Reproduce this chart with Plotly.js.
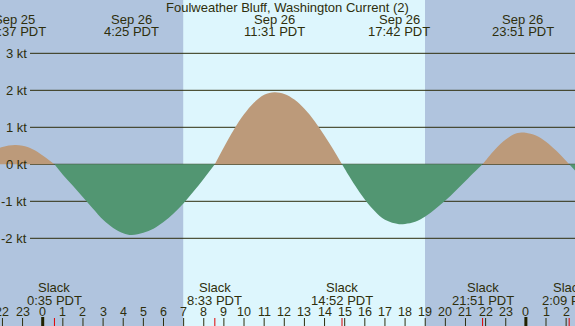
<!DOCTYPE html>
<html>
<head>
<meta charset="utf-8">
<script src="https://cdn.plot.ly/plotly-3.0.1.min.js"></script>
<style>
html,body{margin:0;padding:0;background:#b0c4de;}
#chart{width:575px;height:326px;}
</style>
</head>
<body>
<div id="chart"></div>
<script>
// Hours relative to Sep 26 00:00 PDT
const times = [-2.5,-2.0,-1.383,-1.0,-0.5,0,0.583,1.0,1.5,2.0,2.5,3.0,3.5,4.0,4.417,5.0,5.5,6.0,6.5,7.0,7.5,8.0,8.55,9.0,9.5,10.0,10.5,11.0,11.517,12.0,12.5,13.0,13.5,14.0,14.5,14.867,15.0,15.5,16.0,16.5,17.0,17.7,18.0,18.5,19.0,19.5,20.0,20.5,21.0,21.5,21.85,22.0,22.5,23.0,23.5,23.85,24.0,24.5,25.0,25.5,26.15,26.6];
const speeds = [0.36,0.47,0.52,0.50,0.41,0.24,0,-0.28,-0.58,-0.89,-1.20,-1.50,-1.72,-1.86,-1.91,-1.85,-1.74,-1.56,-1.33,-1.05,-0.73,-0.39,0,0.46,0.94,1.35,1.67,1.88,1.95,1.90,1.75,1.50,1.17,0.77,0.34,0,-0.12,-0.56,-0.95,-1.27,-1.50,-1.62,-1.61,-1.55,-1.41,-1.21,-0.98,-0.72,-0.45,-0.18,0,0.10,0.42,0.67,0.83,0.86,0.85,0.78,0.61,0.37,0,-0.26];

const extremeTimes = [-1.383, 4.417, 11.517, 17.7, 23.85];
const extremeDates = ['Sep 25','Sep 26','Sep 26','Sep 26','Sep 26'];
const extremeLabels = ['22:37 PDT','4:25 PDT','11:31 PDT','17:42 PDT','23:51 PDT'];

const slackTimes = [0.583, 8.55, 14.867, 21.85, 26.15];
const slackLabels = ['0:35 PDT','8:33 PDT','14:52 PDT','21:51 PDT','2:09 PDT'];

const hourTicks = [-2,-1,0,1,2,3,4,5,6,7,8,9,10,11,12,13,14,15,16,17,18,19,20,21,22,23,24,25,26];
const hourLabels = ['22','23','0','1','2','3','4','5','6','7','8','9','10','11','12','13','14','15','16','17','18','19','20','21','22','23','0','1','2'];
const midnights = [0, 24];

const gridValues = [3,2,1,0,-1,-2];
const gridLabels = ['3 kt','2 kt','1 kt','0 kt','-1 kt','-2 kt'];

const sunrise = 6.98, sunset = 18.99;
const titleText = 'Foulweather Bluff, Washington Current (2)';

const W = 575, H = 326;
const NIGHT = '#b0c4de', DAY = '#ddf6fd';
const FLOOD = '#bc9a7a', EBB = '#529672';
const INK = '#2e2e0c';
const FONT = 'Liberation Sans, Arial, sans-serif';

// split series into lobes by sign
const lobes = [];
let cur = null;
for (let i = 0; i < times.length; i++) {
  const v = speeds[i], t = times[i];
  const s = v > 0 ? 1 : (v < 0 ? -1 : 0);
  if (s === 0) {
    if (cur) { cur.x.push(t); cur.y.push(v); lobes.push(cur); }
    cur = {sign: null, x: [t], y: [v]};
  } else {
    if (!cur) cur = {sign: s, x: [t], y: [v]};
    else { if (cur.sign === null) cur.sign = s; cur.x.push(t); cur.y.push(v); }
  }
}
if (cur && cur.x.length > 1) lobes.push(cur);

const traces = lobes.map(l => ({
  type: 'scatter', x: l.x, y: l.y, mode: 'none', fill: 'tozeroy',
  fillcolor: l.sign > 0 ? FLOOD : EBB,
  line: {shape: 'spline', smoothing: 1, width: 0},
  hoverinfo: 'skip', showlegend: false
}));

const py = px => 1 - px / H;
const shapes = [];
shapes.push({type:'rect', xref:'x', yref:'paper', x0:sunrise, x1:sunset, y0:0, y1:1, fillcolor:DAY, line:{width:0}, layer:'below'});
gridValues.forEach(v => shapes.push({type:'line', xref:'paper', yref:'y', x0:30/W, x1:1, y0:v, y1:v, line:{color:INK, width:1}, layer:'below'}));
hourTicks.forEach(h => {
  const isMid = midnights.indexOf(h) >= 0;
  shapes.push({type:'line', xref:'x', yref:'paper', x0:h, x1:h, y0:0, y1:isMid ? py(317) : py(318), line:{color:isMid ? '#222200' : INK, width:isMid ? 3 : 1}, layer:'above'});
});
slackTimes.forEach(t => shapes.push({type:'line', xref:'x', yref:'paper', x0:t, x1:t, y0:0, y1:py(318), line:{color:'#e00000', width:1}, layer:'above'}));

const ann = [];
const f = (size) => ({family: FONT, size: size, color: INK});
const A = (o) => Object.assign({showarrow:false, borderpad:0, xanchor:'center', yanchor:'middle'}, o);
ann.push(A({xref:'paper', yref:'paper', x:0.5, y:py(7.3), text:titleText, font:f(13)}));
extremeTimes.forEach((t, i) => {
  ann.push(A({xref:'x', yref:'paper', x:t, y:py(19.7), text:extremeDates[i], font:f(13)}));
  ann.push(A({xref:'x', yref:'paper', x:t, y:py(31.3), text:extremeLabels[i], font:f(13)}));
});
slackTimes.forEach((t, i) => {
  ann.push(A({xref:'x', yref:'paper', x:t, y:py(287.2), text:'Slack', font:f(13)}));
  ann.push(A({xref:'x', yref:'paper', x:t, y:py(300), text:slackLabels[i], font:f(13)}));
});
hourTicks.forEach((h, i) => {
  ann.push(A({xref:'x', yref:'paper', x:h, y:py(311.7), text:hourLabels[i], font:f(12.5)}));
});
gridValues.forEach((v, i) => {
  ann.push(A({xref:'paper', yref:'y', x:28/W, y:v, text:gridLabels[i], xanchor:'right', font:f(13)}));
});

const layout = {
  width: W, height: H,
  margin: {l:0, r:0, t:0, b:0, pad:0},
  paper_bgcolor: NIGHT, plot_bgcolor: NIGHT,
  xaxis: {range:[-2.121, 26.44], visible:false, fixedrange:true},
  yaxis: {range:[-4.370, 4.441], visible:false, fixedrange:true},
  shapes: shapes, annotations: ann, showlegend:false
};
Plotly.newPlot('chart', traces, layout, {displayModeBar:false, staticPlot:true});
</script>
</body>
</html>
